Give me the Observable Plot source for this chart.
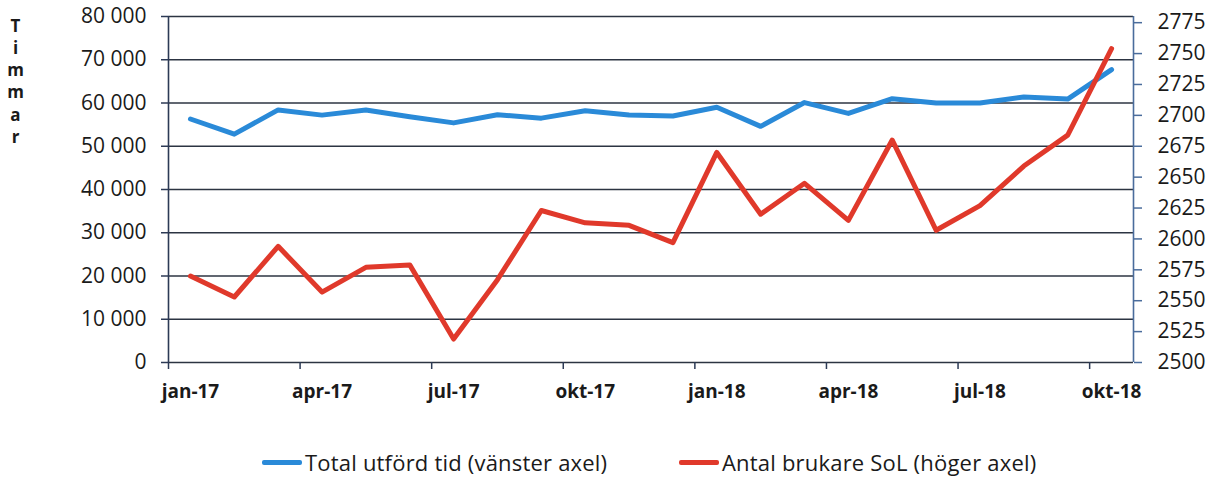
<!DOCTYPE html>
<html><head><meta charset="utf-8">
<script src="https://cdn.jsdelivr.net/npm/d3@7"></script>
<script src="https://cdn.jsdelivr.net/npm/@observablehq/plot@0.6"></script>
<style>
body{margin:0;background:#fff;font-family:"Open Sans",sans-serif;}
#wrap{position:relative;width:1211px;height:477px;overflow:hidden;}
#chart svg{display:block;}
.leg{position:absolute;top:447px;height:30px;display:flex;align-items:center;font-size:22px;letter-spacing:0.2px;color:#1a1a1a;white-space:nowrap;}
.sw{display:inline-block;width:40px;height:5px;margin-right:3px;border-radius:2px;}
</style></head><body>
<div id="wrap"><div id="chart"></div>
<div class="leg" style="left:262px"><span class="sw" style="background:#2a8ad8"></span>Total utförd tid (vänster axel)</div>
<div class="leg" style="left:679px"><span class="sw" style="background:#e0392b"></span>Antal brukare SoL (höger axel)</div>
</div>
<script>
const months = ["jan-17","feb-17","mar-17","apr-17","maj-17","jun-17","jul-17","aug-17","sep-17","okt-17","nov-17","dec-17",
                "jan-18","feb-18","mar-18","apr-18","maj-18","jun-18","jul-18","aug-18","sep-18","okt-18"];
const totalTid = [56300,52800,58400,57200,58400,56800,55400,57300,56500,58200,57200,57000,
                  59000,54600,60100,57600,61000,60000,60000,61400,60900,67700];
const antalBrukare = [2570,2553,2594,2557,2577,2579,2519,2567,2623,2613,2611,2597,
                      2670,2620,2645,2615,2680,2607,2627,2659,2684,2754];
const leftTicks = [0,10000,20000,30000,40000,50000,60000,70000,80000];
const rightTicks = [2500,2525,2550,2575,2600,2625,2650,2675,2700,2725,2750,2775];
const rightDomain = [2500,2780];
const leftDomain = [0,80000];
const labelIdx = [0,3,6,9,12,15,18,21];
const boundaryIdx = [-0.5,2.5,5.5,8.5,11.5,14.5,17.5,20.5];
const yTitle = "T\ni\nm\nm\na\nr";

const toLeft = v => (v - rightDomain[0]) / (rightDomain[1] - rightDomain[0]) * leftDomain[1];
const fromLeft = v => String(Math.round(v / leftDomain[1] * (rightDomain[1] - rightDomain[0]) + rightDomain[0]));
const fmt = v => d3.format(",")(v).replace(/,/g, " ");

const blueData = months.map((m, i) => ({i, v: totalTid[i]}));
const redData = months.map((m, i) => ({i, v: toLeft(antalBrukare[i])}));

const plot = Plot.plot({
  width: 1211, height: 420,
  marginLeft: 168, marginRight: 78, marginTop: 16, marginBottom: 58,
  style: {fontFamily: "Open Sans", fontSize: "21px", color: "#1a1a1a", background: "transparent"},
  x: {type: "linear", domain: [-0.5, months.length - 0.5], label: null},
  y: {domain: leftDomain, label: null},
  marks: [
    Plot.ruleY(leftTicks, {stroke: "#2c3442", strokeWidth: 1.5}),
    Plot.ruleX([-0.5], {stroke: "#2c3a55", strokeWidth: 1.6, y1: leftDomain[0], y2: leftDomain[1]}),
    Plot.ruleX([months.length - 0.5], {stroke: "#4a6c9c", strokeWidth: 1.6, y1: leftDomain[0], y2: leftDomain[1]}),
    Plot.axisY(leftTicks, {anchor: "left", tickSize: 7, tickPadding: 15, tickFormat: fmt, stroke: "#2c3a55", strokeWidth: 1.5, fill: "#1a1a1a", fontSize: 21, label: null}),
    Plot.axisY(rightTicks.map(toLeft), {anchor: "right", tickSize: 8, tickPadding: 16, tickFormat: fromLeft, stroke: "#4a6c9c", strokeWidth: 1.5, fill: "#1a1a1a", fontSize: 21, label: null}),
    Plot.axisX(boundaryIdx, {tickSize: 7, tickFormat: () => "", stroke: "#2c3a55", strokeWidth: 1.5, label: null}),
    Plot.axisX(labelIdx, {tickSize: 0, tickPadding: 22, tickFormat: i => months[i], fontWeight: "bold", fontSize: 19, fill: "#1a1a1a", label: null}),
    Plot.line(blueData, {x: "i", y: "v", stroke: "#2a8ad8", strokeWidth: 5, strokeLinejoin: "round", strokeLinecap: "round"}),
    Plot.line(redData, {x: "i", y: "v", stroke: "#e0392b", strokeWidth: 5, strokeLinejoin: "round", strokeLinecap: "round"}),
    Plot.text([yTitle], {frameAnchor: "top-left", dx: -153, dy: 0, textAnchor: "middle", lineAnchor: "top", lineHeight: 1.3, fontSize: 17, fontWeight: "bold", fill: "#1a1a1a"})
  ]
});
document.getElementById("chart").appendChild(plot);
</script>
</body></html>
